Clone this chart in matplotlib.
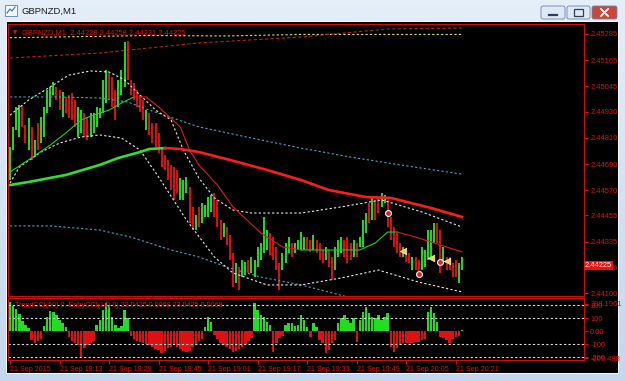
import matplotlib
matplotlib.use('Agg')
import matplotlib.pyplot as plt
from matplotlib.patches import Rectangle, FancyBboxPatch
import numpy as np

W, H = 625, 381
BASE = 2.44  # prices are kept in points (1e-5) above this base

# OHLC extremes per M1 bar, in points above BASE
bar_high = [768, 860, 951, 960, 960, 869, 901, 860, 800, 878,
            905, 951, 1029, 1043, 1065, 1043, 1029, 1020, 997, 1006,
            1015, 983, 951, 937, 924, 905, 924, 924, 951, 946,
            1075, 1120, 1107, 1088, 1029, 1075, 1120, 1248, 1253, 1075,
            1061, 1029, 1006, 983, 937, 924, 878, 878, 832, 768,
            731, 709, 686, 676, 663, 626, 617, 631, 585, 494,
            457, 494, 512, 503, 539, 548, 558, 526, 434, 420,
            402, 365, 283, 238, 219, 251, 242, 251, 265, 251,
            311, 329, 448, 388, 375, 356, 311, 238, 283, 329,
            356, 329, 329, 343, 379, 356, 356, 343, 365, 343,
            329, 297, 311, 297, 265, 311, 343, 356, 343, 356,
            329, 343, 329, 356, 434, 466, 512, 539, 526, 535,
            558, 548, 526, 448, 402, 375, 329, 311, 297, 283,
            265, 265, 251, 311, 297, 388, 388, 420, 420, 388,
            311, 265, 265, 238, 251, 238, 265]
bar_low = [617, 754, 846, 814, 860, 786, 754, 709, 722, 754,
           786, 814, 924, 951, 1006, 983, 937, 905, 924, 901,
           892, 860, 814, 832, 814, 800, 814, 832, 860, 901,
           924, 969, 983, 951, 892, 951, 1006, 1043, 1075, 1006,
           983, 951, 928, 892, 846, 823, 786, 768, 741, 676,
           663, 617, 571, 526, 558, 526, 526, 558, 420, 388,
           388, 402, 420, 448, 448, 471, 448, 402, 343, 356,
           320, 251, 128, 146, 114, 173, 183, 192, 192, 173,
           219, 251, 283, 297, 274, 251, 205, 114, 205, 238,
           283, 265, 283, 297, 297, 297, 297, 288, 297, 283,
           251, 238, 251, 219, 160, 205, 265, 283, 265, 238,
           251, 265, 265, 311, 311, 375, 420, 434, 434, 466,
           494, 512, 402, 343, 311, 283, 265, 265, 242, 238,
           205, 205, 192, 205, 219, 251, 265, 329, 329, 192,
           238, 205, 205, 173, 173, 146, 205]
bar_up = [1, 1, 1, 1, 0, 0, 1, 0, 1, 0,
          1, 1, 1, 1, 1, 0, 0, 1, 0, 0,
          0, 0, 1, 1, 0, 0, 1, 1, 1, 1,
          1, 1, 0, 0, 0, 1, 1, 1, 0, 0,
          0, 0, 0, 0, 1, 0, 0, 0, 0, 0,
          0, 0, 0, 0, 0, 1, 1, 1, 0, 0,
          1, 0, 1, 1, 1, 1, 0, 0, 0, 1,
          0, 0, 0, 1, 0, 1, 1, 0, 1, 1,
          1, 1, 1, 1, 0, 0, 0, 0, 1, 1,
          1, 0, 1, 1, 1, 1, 0, 0, 1, 0,
          0, 0, 1, 0, 0, 1, 1, 1, 0, 0,
          0, 1, 0, 1, 1, 1, 0, 1, 0, 0,
          1, 1, 0, 0, 0, 0, 0, 1, 0, 0,
          1, 0, 0, 1, 1, 1, 1, 1, 0, 0,
          1, 0, 0, 0, 0, 1, 1]

# CCI histogram in the sub window
cci = [220, 195, 170, 130, 80, 45, 20, -70, -95, -80,
       -60, 40, 110, 155, 145, 120, 85, 60, 30, -45,
       -80, -95, -110, -200, -130, -105, -95, -80, 46, 84,
       161, 218, 200, 110, 46, 20, 40, 161, 97, -40,
       -60, -75, -85, -95, -100, -110, -120, -135, -145, -166,
       -150, -130, -120, -110, -125, -140, -150, -160, -150, -120,
       -100, -80, -60, 33, 110, 72, -30, -60, -90, -110,
       -120, -140, -160, -150, -140, -120, -100, -80, -50, 212,
       161, 123, 110, 72, 46, -159, -95, -56, -40, 46,
       64, 59, 38, 46, 123, 84, 33, -44, 59, 33,
       -69, -95, -171, -146, -95, -69, 59, 97, 123, 84,
       59, 97, -82, 84, 148, 187, 136, 110, 97, 123,
       84, 110, 136, -120, -159, -133, -108, -95, -95, -95,
       -95, -82, -82, -70, -60, 148, 187, 136, 72, -44,
       -56, -69, -95, -60, -44, -40, 10]

# indicator lines sampled at bar indices (points above BASE)
slow_ma_up_i = [0, 6, 18, 29, 35, 42, 45, 50]
slow_ma_up = [594, 608, 640, 686, 718, 745, 759, 763]
slow_ma_dn_i = [50, 55, 61, 71, 83, 94, 103, 115, 123, 136, 146]
slow_ma_dn = [763, 759, 745, 709, 663, 617, 571, 539, 535, 489, 448]

fast_ma_segments = [
    ('up', [0, 6, 13, 18, 23, 27, 32, 36, 40],
     [654, 709, 777, 832, 892, 914, 937, 969, 997]),
    ('dn', [40, 44, 48, 55, 58, 61, 67, 72, 81, 88, 94],
     [997, 997, 951, 860, 754, 686, 594, 494, 375, 311, 297]),
    ('up', [94, 103, 113, 118, 122, 125],
     [297, 297, 297, 329, 379, 379]),
    ('dn', [125, 131, 137, 146], [379, 356, 329, 288]),
]

band_hi_i = [0, 6, 13, 19, 26, 32, 37, 42, 47, 52, 56, 61, 66, 72, 78, 94, 107, 120, 133, 146]
band_hi = [914, 983, 1043, 1097, 1116, 1111, 1075, 1006, 937, 892, 754, 626, 535, 480, 466, 466, 494, 526, 471, 402]
band_lo_i = [0, 3, 10, 16, 23, 29, 36, 42, 48, 57, 66, 72, 83, 94, 107, 119, 132, 146]
band_lo = [603, 676, 745, 786, 814, 823, 809, 754, 631, 434, 265, 192, 137, 137, 169, 205, 150, 105]

cyan_hi_i = [0, 16, 29, 38, 45, 61, 78, 94, 110, 126, 146]
cyan_hi = [997, 997, 992, 974, 937, 860, 809, 763, 722, 686, 644]
cyan_lo_i = [0, 13, 29, 39, 52, 61, 71, 81, 94, 108, 112]
cyan_lo = [407, 407, 388, 356, 297, 265, 214, 173, 137, 86, 70]

yellow_i = [0, 45, 70, 94, 146]
yellow = [1268, 1278, 1276, 1283, 1283]
red_env_i = [0, 29, 61, 94, 122, 146]
red_env = [1175, 1198, 1244, 1271, 1308, 1312]

sell_i = [122, 132, 139]
sell_pts = [466, 187, 242]
arrow_i = [127, 136, 141]
arrow_pts = [292, 260, 246]

price_ticks = [1285, 1165, 1045, 930, 810, 690, 570, 455, 335, 215, 100]
last_price = 225
cci_ticks = [208.1961, 200, 100, 0, -100, -200, -209.488]
cci_tick_labels = ['208.1961', '200', '100', '0.00', '-100', '-200', '-209.488']
cci_levels = [200, 100, -100, -200]
time_bars = [0, 16, 32, 48, 64, 80, 96, 112, 128, 144]
time_labels = ['21 Sep 2015', '21 Sep 18:13', '21 Sep 18:29', '21 Sep 18:45',
               '21 Sep 19:01', '21 Sep 19:17', '21 Sep 19:33', '21 Sep 19:49',
               '21 Sep 20:05', '21 Sep 20:21']


def price(p):
    return BASE + np.asarray(p, dtype=float) / 1e5


def fx(x):
    return x / W


def fy(y):
    return 1 - y / H


RED = '#dd1111'
GREEN = '#22dd22'
FONT = 'Liberation Sans'

fig = plt.figure(figsize=(W / 100, H / 100), dpi=100)

# window chrome
bg = fig.add_axes([0, 0, 1, 1])
bg.set_xlim(0, W)
bg.set_ylim(H, 0)
bg.axis('off')
grad = np.linspace(0, 1, 64)[:, None]
cmap = matplotlib.colors.LinearSegmentedColormap.from_list('frame', ['#e4eef9', '#c3d7ee'])
bg.imshow(grad, cmap=cmap, extent=(0, W, H, 0), aspect='auto')
bg.add_patch(Rectangle((6, 21), 613, 353, facecolor='#f4f8fc', edgecolor='none'))
bg.add_patch(Rectangle((7, 22), 611, 351, facecolor='black', edgecolor='none'))
bg.add_patch(Rectangle((5, 5), 12, 11, facecolor='#f4f7fb', edgecolor='#5c7ea6', lw=0.6))
bg.plot([7, 10, 12, 15], [13, 9, 11, 7], color='#3a6fb0', lw=0.8)
bg.text(22, 11.5, 'GBPNZD,M1', fontsize=6.8, family=FONT, color='#1a1a1a', va='center')
for x0, w, fc in [(541, 24, '#dfe9f5'), (567, 23, '#dfe9f5'), (592, 25, '#c9483e')]:
    bg.add_patch(FancyBboxPatch((x0, 6), w, 13, boxstyle='round,pad=0,rounding_size=2',
                                facecolor=fc, edgecolor='#6d86a6', lw=0.6))
bg.plot([549, 557], [15, 15], color='#2a3f5c', lw=1.6)
bg.add_patch(Rectangle((574, 9), 9, 7, facecolor='none', edgecolor='#2a3f5c', lw=0.9))
bg.plot([601, 608], [9, 16], color='white', lw=1.3)
bg.plot([601, 608], [16, 9], color='white', lw=1.3)

# main price window
ax = fig.add_axes([fx(8), fy(296), fx(576), 272 / H])
ax.set_facecolor('black')
ax.set_xlim(-0.65, 185.4)
ax.set_ylim(price(86.4), price(1330.7))

idx = np.arange(len(bar_high))
colors = [GREEN if u else RED for u in bar_up]
ax.vlines(idx, price(bar_low), price(bar_high), colors=colors, lw=1.4)

dot = dict(lw=0.8, dashes=(2, 2))
ax.plot(yellow_i, price(yellow), color='#e6e03a', **dot)
ax.plot(red_env_i, price(red_env), color='#b02424', lw=0.8, dashes=(3, 2))
ax.plot(cyan_hi_i, price(cyan_hi), color='#3aa9bb', **dot)
ax.plot(cyan_lo_i, price(cyan_lo), color='#3aa9bb', **dot)
ax.plot(band_hi_i, price(band_hi), color='#e8e8e8', **dot)
ax.plot(band_lo_i, price(band_lo), color='#e8e8e8', **dot)
for kind, si, sv in fast_ma_segments:
    ax.plot(si, price(sv), color='#1fcf1f' if kind == 'up' else '#e01a1a', lw=0.8)
ax.plot(slow_ma_up_i, price(slow_ma_up), color='#2ee02e', lw=1.9)
ax.plot(slow_ma_dn_i, price(slow_ma_dn), color='#ff1c1c', lw=1.9)
ax.scatter(sell_i, price(sell_pts), s=18, color='#e41e1e', edgecolors='white', lw=0.8, zorder=5)
ax.scatter(arrow_i, price(arrow_pts), s=22, marker='<', color='#f2d24a', edgecolors='#fff3a0', lw=0.5, zorder=5)

ax.yaxis.tick_right()
ax.set_yticks(price(price_ticks))
ax.set_yticklabels(['%.5f' % v for v in price(price_ticks)])
ax.tick_params(axis='y', colors=RED, labelsize=5.4, length=3, width=0.7, pad=1.5)
ax.set_xticks([])
for s in ax.spines.values():
    s.set_color('#c81010')
    s.set_linewidth(0.8)
for lbl in ax.get_yticklabels():
    lbl.set_family(FONT)

ax.text(0.009, 0.978, '\u25bc', transform=ax.transAxes, fontsize=4, color=RED, va='top')
ax.text(0.025, 0.982, 'GBPNZD,M1  2.44228 2.44258 2.44221 2.44225', transform=ax.transAxes,
        fontsize=5.4, family=FONT, color=RED, va='top')

# last price marker on the price scale
yl = fy(24) - (price(1330.7) - price(last_price)) / (price(1330.7) - price(86.4)) * (272 / H)
fig.text(fx(585), yl, '%.5f' % price(last_price), fontsize=5.4, family=FONT, color='white',
         va='center', ha='left',
         bbox=dict(boxstyle='square,pad=0.15', facecolor='#f01010', edgecolor='none'))

# CCI sub window
sub = fig.add_axes([fx(8), fy(360), fx(576), 62 / H])
sub.set_facecolor('black')
sub.set_xlim(-0.65, 185.4)
sub.set_ylim(-223, 254)
sub.bar(idx, cci, width=0.8, color=[GREEN if v > 0 else RED for v in cci], linewidth=0)
for lv in cci_levels:
    sub.axhline(lv, color='#dcdcdc', **dot)
sub.yaxis.tick_right()
sub.set_yticks(cci_ticks)
sub.set_yticklabels(cci_tick_labels)
sub.tick_params(axis='y', colors=RED, labelsize=5.4, length=3, width=0.7, pad=1.5)
sub.set_xticks(time_bars)
sub.set_xticklabels(time_labels)
sub.tick_params(axis='x', colors=RED, labelsize=5.1, length=3, width=0.7, pad=1.5)
for lbl in sub.get_xticklabels():
    lbl.set_ha('left')
    lbl.set_family(FONT)
for lbl in sub.get_yticklabels():
    lbl.set_family(FONT)
for s in sub.spines.values():
    s.set_color('#c81010')
    s.set_linewidth(0.8)
sub.text(0.012, 0.93, 'TrendCCI(50) 0, EntryCCI(14) 0) 23.0425 0.0068 23.0425 0.0068',
         transform=sub.transAxes, fontsize=5.1, family=FONT, color=RED, va='top')

fig.savefig('out.png', dpi=100, facecolor='#c9dbef')
